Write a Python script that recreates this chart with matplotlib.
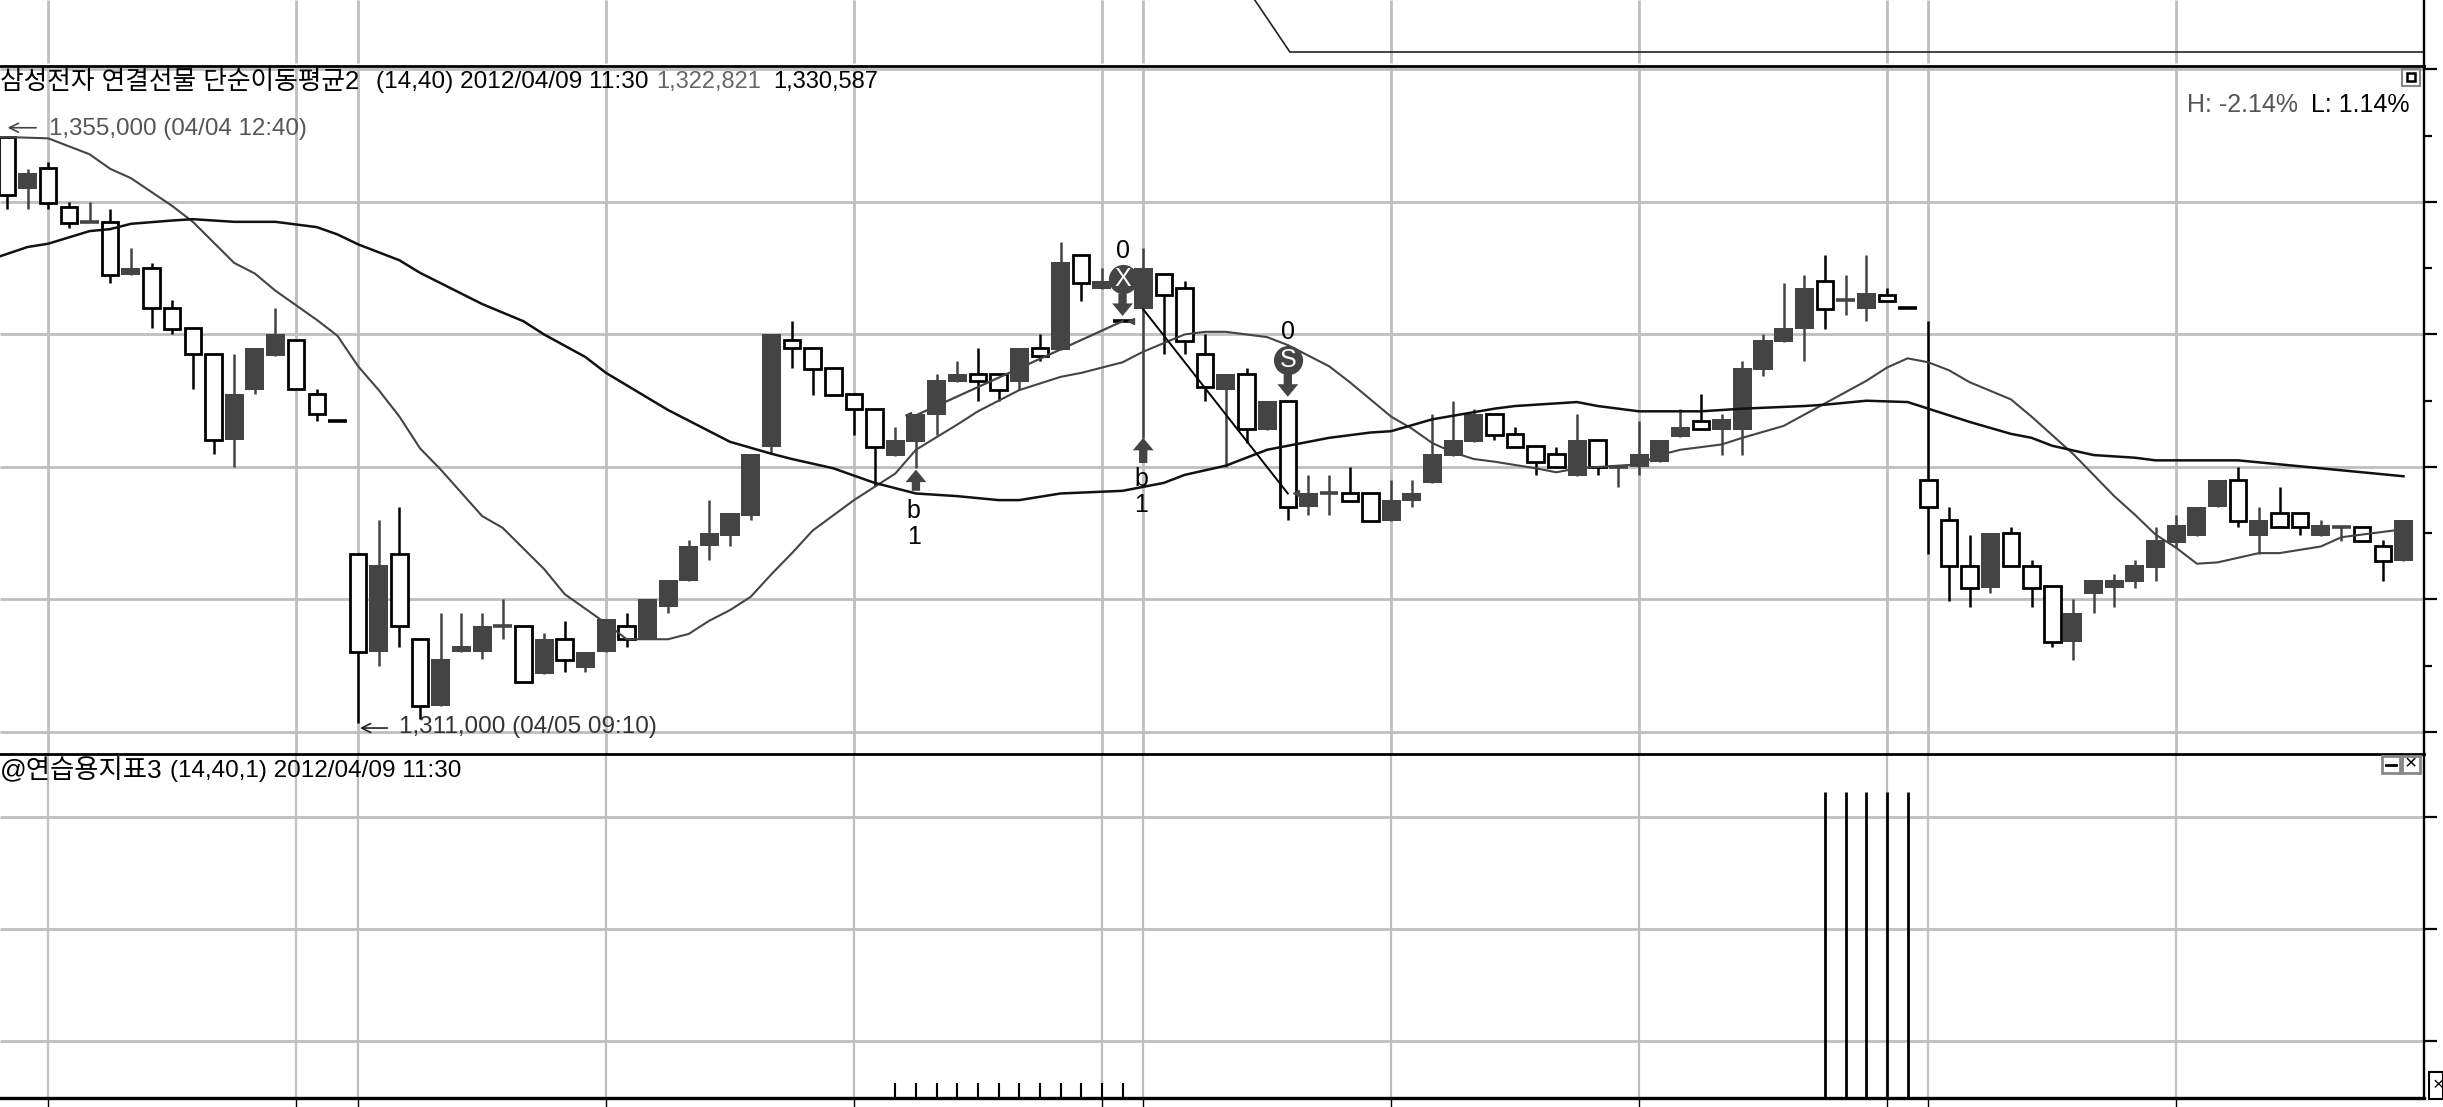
import matplotlib
matplotlib.use("Agg")
import matplotlib.pyplot as plt
from matplotlib.patches import Rectangle

plt.rcParams['font.family'] = ['Liberation Sans', 'Noto Sans CJK KR', 'DejaVu Sans']

# candle body top / bottom, high, low in thousands of won; filled 1 = dark body
body_top = [1354.9,1352.2,1352.6,1349.6,1348.5,1348.5,1345,1345,1342,1340.5,1338.5,1335.5,1339,1340,1339.6,1335.5,1333.5,
    1323.4,1322.6,1323.4,1317,1315.5,1316.5,1318,1318,1318,1317,1317,1316,1318.5,1318,1320,1321.5,1324,1325,1326.5,1331,1340,1339.6,
    1339,1337.5,1335.5,1334.4,1332,1334,1336.6,1337,1337,1337,1339,1339,1345.5,1346,1344,1341,1345,1344.6,1343.5,1338.5,1337,1337,1335,1335,
    1328,1328,1328,1328,1327.5,1328,1331,1332,1334,1334,1332.5,1331.6,1331,1332,1332,1330,
    1331,1332,1333,1333.5,1333.6,1337.5,1339.6,1340.5,1343.5,1344,1342.6,1343.1,1343,1342,
    1329,1326,1322.5,1325,1325,1322.5,1321,1319,1321.5,1321.5,1322.6,1324.5,1325.6,1327,1329,1329,1326,1326.5,1326.5,1325.6,1325.5,1325.5,1324,1326]
body_bot = [1350.5,1351,1349.9,1348.4,1348.5,1344.5,1344.5,1342,1340.4,1338.5,1332,1332,1335.8,1338.4,1335.9,1334,1333.5,
    1316,1316,1318,1312,1312,1316,1316,1318,1313.8,1314.4,1315.4,1314.8,1316,1317,1317,1319.4,1321.4,1324,1324.8,1326.3,1331.5,1339,
    1337.4,1335.4,1334.4,1331.5,1330.8,1331.9,1333.9,1336.4,1336.5,1335.8,1336.4,1338.4,1338.8,1343.9,1343.4,1341,1341.9,1343,1339.5,1336,1335.8,1332.9,1332.8,1327,
    1327,1328,1327.4,1325.9,1325.9,1327.4,1328.8,1330.8,1331.9,1332.4,1331.5,1330.4,1330,1329.3,1330,1330,
    1330,1330.4,1332.3,1332.9,1332.8,1332.8,1337.3,1339.4,1340.4,1341.9,1342.6,1341.9,1342.5,1342,
    1327,1322.5,1320.9,1320.9,1322.5,1320.9,1316.8,1316.8,1320.4,1320.9,1321.3,1322.4,1324.3,1324.8,1327,1325.9,1324.8,1325.5,1325.5,1324.8,1325.5,1324.4,1322.9,1322.9]
high = [1355,1352.5,1353,1350,1350,1349.5,1346.5,1345.4,1342.6,1340.5,1338.5,1338.5,1339,1342,1339.6,1335.9,1333.5,
    1323.4,1326,1327,1317,1319,1319,1319,1320,1318,1317.5,1318.4,1316,1318.5,1319,1320,1321.5,1324.5,1327.5,1326.5,1331,1340,1341,
    1339,1337.5,1335.5,1334.4,1333,1334,1337,1338,1339,1337,1339,1340,1347,1346,1345,1341,1346.5,1344.6,1344,1340,1337,1337.5,1335,1335,
    1329.4,1329.4,1330,1328,1329,1329,1334,1335,1334.4,1334,1333,1331.6,1331.5,1334,1332,1330,
    1333.5,1332,1334.4,1335.5,1334,1338,1340,1343.9,1344.5,1346,1344.5,1346,1343.5,1342,
    1341,1327,1324.9,1325,1325.5,1323,1321,1320,1321.5,1321.9,1323,1325.5,1326.4,1327,1329,1330,1327,1328.5,1326.5,1326,1325.5,1325.5,1324.5,1326]
low = [1349.5,1349.5,1349.5,1348,1348.5,1343.9,1344.5,1340.5,1340,1335.9,1331,1330,1335.5,1338.4,1335.9,1333.5,1333.5,
    1310.7,1315,1316.4,1311,1312,1316,1315.5,1317,1313.8,1314.4,1314.5,1314.5,1316,1316.4,1317,1319,1321.4,1323,1324,1326,1331,1337.5,
    1335.4,1335.4,1332.4,1328.6,1330.8,1329.9,1332.4,1336.4,1335,1335,1335.8,1338,1338.8,1342.5,1343.4,1341,1332.2,1338.5,1338.5,1335,1330,1331.8,1332.8,1326,
    1326.4,1326.4,1327.4,1325.9,1325.9,1327,1328.8,1330.8,1331.9,1332,1331.5,1329.4,1330,1329.3,1329.4,1328.5,
    1329.4,1330.4,1332.3,1332.9,1330.9,1330.9,1336.9,1339.4,1338,1340.4,1341.5,1341,1342.5,1342,
    1323.4,1319.9,1319.4,1320.5,1322.5,1319.4,1316.4,1315.4,1319,1319.4,1320.9,1321.4,1323.9,1324.8,1327,1325.5,1323.4,1325.5,1324.9,1324.8,1324.4,1324.4,1321.4,1322.9]
filled = [0,1,0,0,1,0,1,0,0,0,0,1,1,1,0,0,0,
    0,1,0,0,1,1,1,1,0,1,0,1,1,0,1,1,1,1,1,1,1,0,
    0,0,0,0,1,1,1,1,0,0,1,0,1,0,1,0,1,0,0,0,1,0,1,0,
    1,1,0,0,1,1,1,1,1,0,0,0,0,1,0,1,
    1,1,1,0,1,1,1,1,1,0,1,1,0,0,
    0,0,0,1,0,0,0,1,1,1,1,1,1,1,1,0,1,0,0,1,1,0,0,1]

# simple moving averages, read at selected candles
ma14_idx = [-0.33,0,2,4,5,6,8,9,11,12,13,15,16,17,18,19,20,21,23,24,26,27,29,30,31,32,33,34,35,36,37,38,39,
    41,43,44,46,47,49,51,52,54,55,57,58,59,61,62,64,65,67,68,69,70,71,72,74,75,76,78,
    79,80,81,82,83,84,86,88,90,91,92,93,94,95,97,98,100,102,103,104,105,106,107,109,110,112,113,114,116]
ma14 = [1354.9,1354.9,1354.8,1353.6,1352.5,1351.8,1349.7,1348.5,1345.4,1344.6,1343.3,1341.1,1339.9,1337.6,1335.8,1333.8,1331.4,1329.8,1326.3,1325.4,1322.3,1320.4,1318.2,1317,1317,1317,1317.4,1318.4,1319.2,1320.2,1321.9,1323.5,1325.2,
    1327.5,1329.5,1331.3,1333.2,1334.2,1335.8,1336.8,1337.1,1337.9,1338.7,1340,1340.2,1340.2,1339.8,1339.2,1337.6,1336.4,1333.8,1332.9,1331.8,1331.1,1330.6,1330.4,1329.9,1329.6,1329.9,1330.1,
    1330.2,1330.9,1331.3,1331.5,1331.7,1332.2,1333.1,1334.8,1336.5,1337.5,1338.2,1337.9,1337.3,1336.4,1335.1,1333.8,1331,1327.8,1326.4,1324.9,1323.9,1322.7,1322.8,1323.5,1323.5,1324,1324.7,1324.9,1325.3]
ma40_idx = [-0.33,1,2,4,5,6,8,9,10,11,13,15,16,17,19,20,23,25,26,28,29,32,35,37,
    38,40,42,44,46,48,49,51,54,56,57,59,61,64,66,67,69,72,73,76,77,78,
    79,80,82,84,87,88,90,92,93,95,97,98,99,101,103,104,108,110,112,114,116]
ma40 = [1345.9,1346.6,1346.85,1347.8,1347.95,1348.35,1348.6,1348.7,1348.6,1348.5,1348.5,1348.1,1347.55,1346.8,1345.6,1344.65,1342.3,1341,1340,1338.3,1337.1,1334.3,1331.9,1331,
    1330.6,1329.9,1328.8,1328,1327.8,1327.5,1327.5,1328,1328.2,1328.8,1329.4,1330.1,1331.3,1332.2,1332.6,1332.7,1333.6,1334.4,1334.6,1334.9,1334.6,1334.4,
    1334.2,1334.2,1334.2,1334.4,1334.6,1334.7,1335,1334.9,1334.4,1333.4,1332.5,1332.2,1331.6,1330.9,1330.7,1330.5,1330.5,1330.2,1329.9,1329.6,1329.3]

grid_idx = [2,14,17,29,41,53,55,67,79,91,93,105]
price_grid = [1360,1350,1340,1330,1320,1310]
price_minor = [1355,1345,1335,1325,1315]
ind_grid = [3.73,11.05,18.37]
ind_short_idx = [43,44,45,46,47,48,49,50,51,52,53,54]
ind_short = [1,1,1,1,1,1,1,1,1,1,1,1]
ind_tall_idx = [88,89,90,91,92]
ind_tall = [20,20,20,20,20]
strip_idx = [60.4,62.1,118]
strip_val = [0,52,52]

W, H = 2443, 1107
X0, DX = 6.9, 20.66
RIGHT = 2424
xlim = (-X0/DX, (RIGHT-X0)/DX)
PTOP, PBOT = 1360.26, 1308.34
GRID = '#bebebe'
DARK = '#444444'

def panel(top, bottom):
    return fig.add_axes([0, 1-bottom/H, RIGHT/W, (bottom-top)/H])

def label(x, y, s, color='black', size=17, ha='left'):
    fig.text(x/W, 1-y/H, s, color=color, fontsize=size, ha=ha, va='center')

def box(x0, y0, x1, y1, color='#888888', lw=1.5):
    fig.add_artist(Rectangle((x0/W, 1-y1/H), (x1-x0)/W, (y1-y0)/H, transform=fig.transFigure, fill=False, ec=color, lw=lw))

fig = plt.figure(figsize=(W/100, H/100), dpi=100)

# strip left from the chart above
ax0 = panel(0, 66)
ax0.set_xlim(xlim)
ax0.set_ylim(66, 0)
ax0.vlines(grid_idx, 0, 63, color=GRID, lw=2)
ax0.plot(strip_idx, strip_val, color='#222222', lw=1.2)

# price panel
ax = panel(66, 754)
ax.set_xlim(xlim)
ax.set_ylim(PBOT, PTOP)
ax.hlines(price_grid, xlim[0], xlim[1], color=GRID, lw=2, zorder=1)
ax.vlines(grid_idx, PBOT, PTOP, color=GRID, lw=2, zorder=1)

for i in range(len(body_top)):
    c = DARK if filled[i] else 'black'
    ax.vlines(i, low[i], high[i], color=c, lw=1.8, zorder=2)
    if body_top[i] - body_bot[i] < 0.01:
        ax.hlines(body_top[i], i-0.45, i+0.45, color=c, lw=2.6, zorder=3)
    elif filled[i]:
        ax.bar(i, body_top[i]-body_bot[i], bottom=body_bot[i], width=0.92, color=DARK, linewidth=0, zorder=3)
    else:
        ax.bar(i, body_top[i]-body_bot[i], bottom=body_bot[i], width=0.8, facecolor='white', edgecolor='black', linewidth=2, zorder=3)

ax.plot(ma14_idx, ma14, color='#444444', lw=1.5, zorder=4)
ax.plot(ma40_idx, ma40, color='#111111', lw=1.8, zorder=4)

# trade lines
ax.plot([44, 54], [1333.9, 1341], color=DARK, lw=1.6, zorder=5)
ax.plot([55, 62], [1341.9, 1328], color='black', lw=1.4, zorder=5)
ax.plot([43.6, 54.4, 62.4], [1333.9, 1341, 1328], ls='none', marker='<', ms=5, color=DARK, zorder=5)

# signals
arrow = dict(facecolor=DARK, edgecolor='none', width=6, headwidth=15, headlength=9, shrink=0)
ax.annotate('', xy=(44, 1329.8), xytext=(44, 1328.2), arrowprops=arrow, zorder=6)
ax.annotate('', xy=(55, 1332.2), xytext=(55, 1330.3), arrowprops=arrow, zorder=6)
ax.annotate('', xy=(54, 1341.4), xytext=(54, 1343.1), arrowprops=arrow, zorder=6)
ax.annotate('', xy=(62, 1335.3), xytext=(62, 1337), arrowprops=arrow, zorder=6)
ax.plot([54, 62], [1344.2, 1338.1], ls='none', marker='o', ms=21, color=DARK, mew=0, zorder=6)
for x, y, s, c in [(54, 1344.2, 'X', 'white'), (62, 1338.1, 'S', 'white'),
                   (54, 1346.3, '0', 'black'), (62, 1340.2, '0', 'black'),
                   (43.9, 1326.7, 'b', 'black'), (43.9, 1324.7, '1', 'black'),
                   (54.9, 1329.1, 'b', 'black'), (54.9, 1327.1, '1', 'black')]:
    ax.text(x, y, s, color=c, fontsize=18, ha='center', va='center', zorder=7)

ax.annotate('', xy=(-0.1, 1355.6), xytext=(1.55, 1355.6), arrowprops=dict(arrowstyle='->', color='#444444', lw=1.2, mutation_scale=16))
ax.annotate('', xy=(16.95, 1310.3), xytext=(18.55, 1310.3), arrowprops=dict(arrowstyle='->', color='#222222', lw=1.2, mutation_scale=16))

# indicator panel
ax2 = panel(754, 1098)
ax2.set_xlim(xlim)
ax2.set_ylim(0, 22.48)
ax2.hlines(ind_grid, xlim[0], xlim[1], color=GRID, lw=2, zorder=1)
ax2.vlines(grid_idx, 0, 22.48, color=GRID, lw=1.6, zorder=1)
ax2.vlines(ind_short_idx, 0, ind_short, color='black', lw=1.5, zorder=2)
ax2.vlines(ind_tall_idx, 0, ind_tall, color='black', lw=2, zorder=2)

for a in (ax0, ax, ax2):
    for s in a.spines.values():
        s.set_visible(False)
    a.spines['right'].set_visible(True)
    a.spines['right'].set_linewidth(1.7)
    a.set_xticks([])
    a.set_yticks([])
    a.patch.set_alpha(0)
for a in (ax, ax2):
    a.spines['top'].set_visible(True)
    a.spines['top'].set_linewidth(2)
ax2.spines['bottom'].set_visible(True)
ax2.spines['bottom'].set_linewidth(2.4)

ax.yaxis.tick_right()
ax.set_yticks(price_grid)
ax.set_yticks(price_minor, minor=True)
ax.tick_params(axis='y', which='major', length=9, width=1.6, labelright=False)
ax.tick_params(axis='y', which='minor', length=6, width=1.6, labelright=False)
ax2.yaxis.tick_right()
ax2.set_yticks(ind_grid)
ax2.tick_params(axis='y', length=9, width=1.6, labelright=False)
ax2.set_xticks(grid_idx)
ax2.tick_params(axis='x', length=6.5, width=1, labelbottom=False)

# texts
label(0, 82, '삼성전자 연결선물 단순이동평균2', size=18.5)
label(376, 82, '(14,40) 2012/04/09 11:30', size=17.6)
label(656, 82, '1,322,821', color='#666666')
label(773, 82, '1,330,587')
label(49, 129, '1,355,000 (04/04 12:40)', color='#555555', size=17.4)
label(399, 727, '1,311,000 (04/05 09:10)', color='#333333', size=17.5)
label(0, 771, '@연습용지표3', size=19)
label(170, 771, '(14,40,1) 2012/04/09 11:30', size=17.5)
label(2187, 105, 'H: -2.14%', color='#555555', size=18)
label(2311, 105, 'L: 1.14%', size=18)

# window buttons
box(2402, 69, 2420, 86)
box(2407, 73, 2415, 81, color='black', lw=1.8)
box(2382, 756, 2400, 773, lw=2)
box(2402, 756, 2420, 773, lw=2)
box(2429, 1072, 2443, 1099, color='black', lw=1.5)
fig.add_artist(plt.Line2D([2386/W, 2396/W], [1-765/H, 1-765/H], transform=fig.transFigure, color='black', lw=2))
label(2411, 764, '×', size=15, ha='center')
label(2438, 1086, '×', size=14, ha='center')

fig.savefig('out.png', dpi=100)
